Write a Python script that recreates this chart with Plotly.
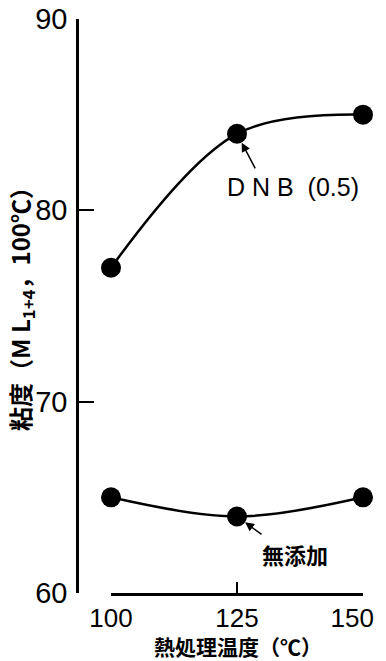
import plotly.graph_objects as go

temps = [100, 125, 150]
dnb = [77, 84, 85]
none_added = [65, 64, 65]
y_ticks = [60, 70, 80, 90]
x_ticks = [100, 125, 150]
x_tick_labels = ["100", "125", "150"]

NUM_FONT = "Liberation Sans, sans-serif"
JP_FONT = "Noto Sans CJK JP, sans-serif"

# the page body adds an 8px margin, so the figure is laid out shifted by 8px
OFF = 8
W, H = 386 - OFF, 661 - OFF
L, R, T = 77 - OFF, 0, 19 - OFF
B = H - (593 - OFF)
pw = W - L - R
ph = H - T - B

fig = go.Figure()
for ys in (dnb, none_added):
    fig.add_trace(go.Scatter(
        x=temps, y=ys, mode="lines+markers",
        line=dict(color="black", width=2.5, shape="spline", smoothing=1.0),
        marker=dict(color="black", size=20),
        cliponaxis=False, showlegend=False, hoverinfo="skip"))

# the last label is padded so it stays inside the visible page edge
tick_text = x_tick_labels[:-1] + [x_tick_labels[-1] + "\u00a0\u00a0\u00a0"]

fig.update_layout(
    width=W, height=H,
    margin=dict(l=L, r=R, t=T, b=B, autoexpand=False),
    paper_bgcolor="white", plot_bgcolor="white",
    xaxis=dict(
        domain=[(111 - 77) / pw, (363 - 77) / pw],
        range=[100, 150], tickvals=x_ticks, ticktext=tick_text,
        showline=True, linecolor="black", linewidth=2.5,
        ticks="inside", ticklen=11, tickwidth=2, tickcolor="black",
        showgrid=False, zeroline=False, automargin=False,
        tickfont=dict(family=NUM_FONT, size=26, color="black"),
        ticklabelstandoff=0, ticklabeloverflow="allow",
    ),
    yaxis=dict(
        anchor="free", position=0,
        range=[60, 90], tickvals=y_ticks,
        showline=True, linecolor="black", linewidth=2.5,
        ticks="inside", ticklen=15, tickwidth=2, tickcolor="black",
        showgrid=False, zeroline=False, automargin=False,
        tickfont=dict(family=NUM_FONT, size=29, color="black"),
        ticklabelstandoff=3, ticklabeloverflow="allow",
    ),
)

fig.add_annotation(
    text="<b>粘度（M L<sub>1+4</sub>，100℃）</b>", textangle=-90,
    xref="paper", yref="paper", x=(21 - 77) / pw, y=(593 - 303) / ph,
    xanchor="center", yanchor="middle", showarrow=False,
    font=dict(family=JP_FONT, size=24, color="black"))

fig.add_annotation(
    text="<b>熱処理温度（℃）</b>",
    xref="paper", yref="paper", x=(238 - 77) / pw, y=(593 - 646) / ph,
    xanchor="center", yanchor="middle", showarrow=False,
    font=dict(family=JP_FONT, size=21, color="black"))

# arrows
fig.add_annotation(x=temps[1], y=dnb[1], xref="x", yref="y", text="",
                   showarrow=True, ax=19, ay=36, arrowhead=2, arrowsize=1.2,
                   arrowwidth=1.5, arrowcolor="black", standoff=10)
fig.add_annotation(x=temps[1], y=none_added[1], xref="x", yref="y", text="",
                   showarrow=True, ax=26, ay=19, arrowhead=2, arrowsize=1.2,
                   arrowwidth=1.5, arrowcolor="black", standoff=10)

# labels
fig.add_annotation(x=temps[1], y=dnb[1], xref="x", yref="y",
                   text="D N B  (0.5)", showarrow=False,
                   xshift=293 - 237, yshift=134 - 187.5,
                   font=dict(family="Liberation Sans, sans-serif", size=25, color="black"))
fig.add_annotation(x=temps[1], y=none_added[1], xref="x", yref="y",
                   text="<b>無添加</b>", showarrow=False,
                   xshift=294.5 - 237, yshift=516.4 - 554,
                   font=dict(family=JP_FONT, size=22, color="black"))

fig.write_html("out.html")
